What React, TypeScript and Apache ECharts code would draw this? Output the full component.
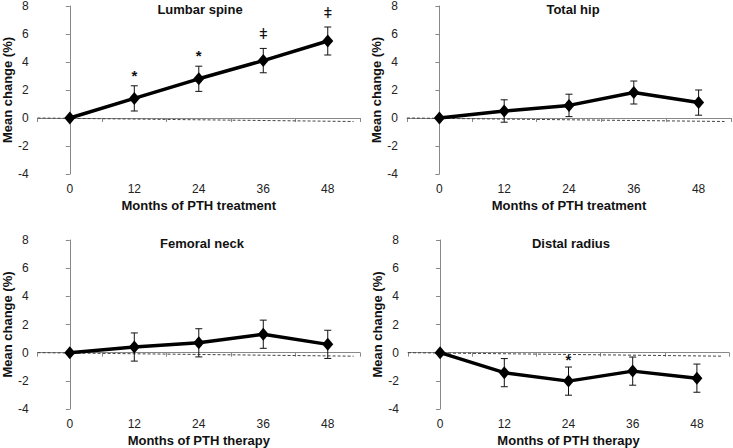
import React, { useEffect, useRef } from "react";
import * as echarts from "echarts";

const MONTHS = ["0", "12", "24", "36", "48"];
const PANEL_TITLES = ["Lumbar spine", "Total hip", "Femoral neck", "Distal radius"];
const X_TITLES = [
  "Months of PTH treatment",
  "Months of PTH treatment",
  "Months of PTH therapy",
  "Months of PTH therapy",
];
const Y_TITLE = "Mean change (%)";

const lumbarMean = [0, 1.4, 2.8, 4.1, 5.5];
const lumbarErr = [0, 0.9, 0.9, 0.87, 1.0];
const hipMean = [0, 0.5, 0.9, 1.82, 1.1];
const hipErr = [0, 0.8, 0.8, 0.82, 0.9];
const neckMean = [0, 0.4, 0.7, 1.31, 0.59];
const neckErr = [0, 1.0, 1.0, 1.0, 1.0];
const radiusMean = [0, -1.42, -2.02, -1.31, -1.81];
const radiusErr = [0, 1.0, 1.0, 1.0, 1.0];

// reference (dashed) line: [x in category units, value]
const refLineStart = [-0.5, 0];
const refLineEnd = [4.4, -0.25];

// significance marks: [category index, value, symbol]
const lumbarMarks: [number, number, string][] = [
  [1, 3.05, "*"],
  [2, 4.5, "*"],
  [3, 6.05, "ǂ"],
  [4, 7.55, "ǂ"],
];
const hipMarks: [number, number, string][] = [];
const neckMarks: [number, number, string][] = [];
const radiusMarks: [number, number, string][] = [[2, -0.45, "*"]];

const Y_MIN = -4;
const Y_MAX = 8;
const Y_STEP = 2;

const MEANS = [lumbarMean, hipMean, neckMean, radiusMean];
const ERRS = [lumbarErr, hipErr, neckErr, radiusErr];
const MARKS = [lumbarMarks, hipMarks, neckMarks, radiusMarks];

const FONT = "'Liberation Sans', Arial, sans-serif";

const GRIDS = [
  { left: 36, top: 5, width: 324, height: 169 },
  { left: 407, top: 5, width: 324, height: 169 },
  { left: 36, top: 240, width: 324, height: 169 },
  { left: 408, top: 240, width: 321, height: 169 },
];
const TITLE_POS = [
  { x: 200, y: 3 },
  { x: 573, y: 3 },
  { x: 202, y: 237 },
  { x: 571, y: 237 },
];

export default function App() {
  const ref = useRef<HTMLDivElement>(null);
  useEffect(() => {
    if (!ref.current) return;
    const chart = echarts.init(ref.current, null, { renderer: "svg" });

    const xAxis: any[] = [];
    const yAxis: any[] = [];
    const series: any[] = [];

    GRIDS.forEach((_, i) => {
      xAxis.push({
        type: "category",
        gridIndex: i,
        data: MONTHS,
        boundaryGap: true,
        name: X_TITLES[i],
        nameLocation: "middle",
        nameGap: 25,
        nameTextStyle: { fontFamily: FONT, fontWeight: "bold", fontSize: 13, color: "#111" },
        axisLine: { lineStyle: { color: "#888", width: 1 } },
        axisTick: { show: true, alignWithLabel: false, length: 4, lineStyle: { color: "#888" } },
        axisLabel: { fontFamily: FONT, fontSize: 12, color: "#222", margin: 9 },
        splitLine: { show: false },
      });
    });
    GRIDS.forEach((_, i) => {
      xAxis.push({
        type: "value",
        gridIndex: i,
        min: -0.5,
        max: 4.5,
        show: false,
      });
      yAxis.push({
        type: "value",
        gridIndex: i,
        min: Y_MIN,
        max: Y_MAX,
        interval: Y_STEP,
        name: Y_TITLE,
        nameLocation: "middle",
        nameGap: 21,
        nameTextStyle: { fontFamily: FONT, fontWeight: "bold", fontSize: 13, color: "#111" },
        axisLine: { show: true, lineStyle: { color: "#888", width: 1 } },
        axisTick: { show: true, length: 4, lineStyle: { color: "#888" } },
        axisLabel: { fontFamily: FONT, fontSize: 12, color: "#222", margin: 9 },
        splitLine: { show: false },
      });
    });

    GRIDS.forEach((_, i) => {
      // dashed reference line
      series.push({
        type: "line",
        xAxisIndex: 4 + i,
        yAxisIndex: i,
        data: [refLineStart, refLineEnd],
        symbol: "none",
        lineStyle: { color: "#444", width: 1, type: [3, 2] },
        z: 1,
        silent: true,
      });
      // error bars
      series.push({
        type: "custom",
        xAxisIndex: i,
        yAxisIndex: i,
        data: MEANS[i]
          .map((m, k) => [k, m - ERRS[i][k], m + ERRS[i][k]])
          .filter((d, k) => ERRS[i][k] > 0),
        renderItem: (params: any, api: any) => {
          const x = api.value(0);
          const lo = api.coord([x, api.value(1)]);
          const hi = api.coord([x, api.value(2)]);
          const w = 3.5;
          const st = { stroke: "#111", lineWidth: 1 };
          return {
            type: "group",
            children: [
              { type: "line", shape: { x1: lo[0], y1: lo[1], x2: hi[0], y2: hi[1] }, style: st },
              { type: "line", shape: { x1: lo[0] - w, y1: lo[1], x2: lo[0] + w, y2: lo[1] }, style: st },
              { type: "line", shape: { x1: hi[0] - w, y1: hi[1], x2: hi[0] + w, y2: hi[1] }, style: st },
            ],
          };
        },
        z: 2,
        silent: true,
      });
      // mean line
      series.push({
        type: "line",
        xAxisIndex: i,
        yAxisIndex: i,
        data: MEANS[i],
        symbol: "diamond",
        symbolSize: [11, 13],
        itemStyle: { color: "#000" },
        lineStyle: { color: "#000", width: 3.5 },
        z: 3,
        silent: true,
      });
      // significance marks
      series.push({
        type: "custom",
        xAxisIndex: i,
        yAxisIndex: i,
        data: MARKS[i].map((m) => [m[0], m[1], m[2]]),
        renderItem: (params: any, api: any) => {
          const p = api.coord([api.value(0), api.value(1)]);
          const txt = MARKS[i][params.dataIndex][2];
          const star = txt === "*";
          return {
            type: "text",
            x: p[0],
            y: p[1],
            style: {
              text: txt,
              fontFamily: FONT,
              fontSize: star ? 15 : 15,
              fontWeight: star ? "bold" : "normal",
              fill: "#111",
              align: "center",
              verticalAlign: "middle",
            },
          };
        },
        z: 4,
        silent: true,
      });
    });

    chart.setOption({
      animation: false,
      backgroundColor: "#fff",
      title: PANEL_TITLES.map((t, i) => ({
        text: t,
        left: TITLE_POS[i].x,
        top: TITLE_POS[i].y,
        textAlign: "center",
        padding: 0,
        textStyle: { fontFamily: FONT, fontWeight: "bold", fontSize: 13, color: "#111" },
      })),
      grid: GRIDS.map((g) => ({ ...g, containLabel: false })),
      xAxis,
      yAxis,
      series,
    });
    return () => chart.dispose();
  }, []);
  return (
    <div
      ref={ref}
      style={{ position: "fixed", left: 0, top: 0, width: 733, height: 448, background: "#fff" }}
    />
  );
}
